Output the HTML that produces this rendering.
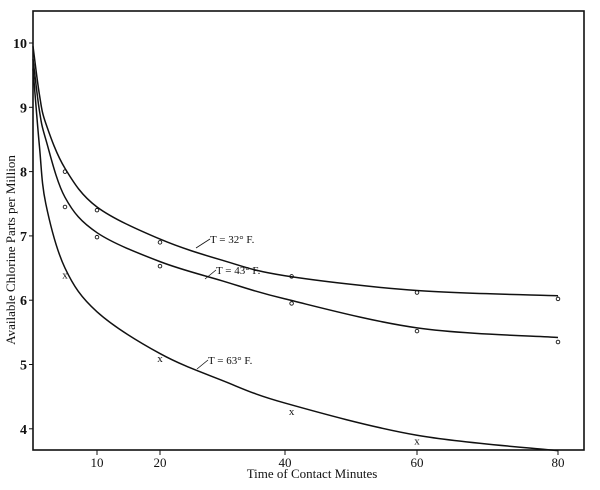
<!DOCTYPE html>
<html><head><meta charset="utf-8"><style>
body{margin:0;background:#fff}
svg text{font-family:"Liberation Serif",serif;fill:#111}
</style></head><body>
<svg width="600" height="485" viewBox="0 0 600 485">
<g id="plot"></g>
</svg>
<script>
const xTicks=[10,20,40,60,80];
const yTicks=[4,5,6,7,8,9,10];
const curve32X=[0,1,2,5,10,20,30,40,60,80];
const curve32Y=[9.95,9.2,8.75,8.05,7.45,6.95,6.62,6.38,6.15,6.07];
const curve43X=[0,1,2,5,10,20,30,40,60,80];
const curve43Y=[9.75,8.95,8.5,7.6,7.05,6.6,6.3,6.02,5.57,5.42];
const curve63X=[0,1,2,5,10,20,30,40,60,80];
const curve63Y=[9.6,8.4,7.5,6.5,5.82,5.17,4.75,4.4,3.9,3.66];
const pts32X=[5,10,20,41,60,80];
const pts32Y=[8.0,7.4,6.9,6.37,6.12,6.02];
const pts43X=[5,10,20,41,60,80];
const pts43Y=[7.45,6.98,6.53,5.95,5.52,5.35];
const pts63X=[5,20,41,60];
const pts63Y=[6.4,5.1,4.28,3.82];

const kx=[0,10,20,40,60,80], kp=[33,97,160,285,417,558];
function sx(v){for(let i=1;i<kx.length;i++){if(v<=kx[i]||i==kx.length-1){const t=(v-kx[i-1])/(kx[i]-kx[i-1]);return kp[i-1]+t*(kp[i]-kp[i-1]);}}}
function sy(v){return 43+(10-v)*64.3;}
const NS="http://www.w3.org/2000/svg";
const g=document.getElementById('plot');
function el(t,a){const e=document.createElementNS(NS,t);for(const k in a)e.setAttribute(k,a[k]);g.appendChild(e);return e;}
// frame
let f=el('rect',{x:33,y:11,width:551,height:439,fill:'none',stroke:'#111','stroke-width':1.6});


xTicks.forEach(v=>{
 const x=sx(v);
 let t=el('line',{x1:x,x2:x,y1:450,y2:455,stroke:'#111','stroke-width':1});
 
 
 let l=el('text',{x:x,y:467,'text-anchor':'middle','font-size':13});l.textContent=v;
 
 
});
yTicks.forEach(v=>{
 const y=sy(v);
 let t=el('line',{x1:29,x2:33,y1:y,y2:y,stroke:'#111','stroke-width':1});
 
 
 let l=el('text',{x:27,y:y+5,'text-anchor':'end','font-size':14,'font-weight':'bold'});l.textContent=v;
 
 
});
function path(xs,ys){
 const p=xs.map((x,i)=>[sx(x),sy(ys[i])]);
 let d='M'+p[0][0]+','+p[0][1];
 for(let i=0;i<p.length-1;i++){
  const p0=p[Math.max(0,i-1)],p1=p[i],p2=p[i+1],p3=p[Math.min(p.length-1,i+2)];
  const c1=[p1[0]+(p2[0]-p0[0])/6,p1[1]+(p2[1]-p0[1])/6];
  const c2=[p2[0]-(p3[0]-p1[0])/6,p2[1]-(p3[1]-p1[1])/6];
  d+=' C'+c1+' '+c2+' '+p2;
 }
 return d;
}
[[curve32X,curve32Y,'curve-32f'],[curve43X,curve43Y,'curve-43f'],[curve63X,curve63Y,'curve-63f']].forEach(c=>{
 let p=el('path',{d:path(c[0],c[1]),fill:'none',stroke:'#111','stroke-width':1.5});
 
 
});
[[pts32X,pts32Y],[pts43X,pts43Y]].forEach(s=>{
 s[0].forEach((x,i)=>{
  let c=el('circle',{cx:sx(x),cy:sy(s[1][i]),r:1.8,fill:'none',stroke:'#111','stroke-width':0.9});
  
  
 });
});
pts63X.forEach((x,i)=>{
 let t=el('text',{x:sx(x),y:sy(pts63Y[i])+4,'text-anchor':'middle','font-size':11});t.textContent='x';
 
 
});
[[196,248,'T = 32° F.',210,243,'label-32f'],[205,279,'T = 43° F.',216,274,'label-43f'],[197,369,'T = 63° F.',208,364,'label-63f']].forEach(a=>{
 let ln=el('line',{x1:a[0],y1:a[1],x2:a[3],y2:a[4]-4,stroke:'#111','stroke-width':0.8});
 
 
 let t=el('text',{x:a[3],y:a[4],'font-size':11});t.textContent=a[2];
 
 
});
let xt=el('text',{x:312,y:478,'text-anchor':'middle','font-size':13});xt.textContent='Time of Contact Minutes';


let yt=el('text',{x:0,y:0,'text-anchor':'middle','font-size':13,transform:'translate(15,250) rotate(-90)'});yt.textContent='Available Chlorine Parts per Million';


</script>
</body></html>
